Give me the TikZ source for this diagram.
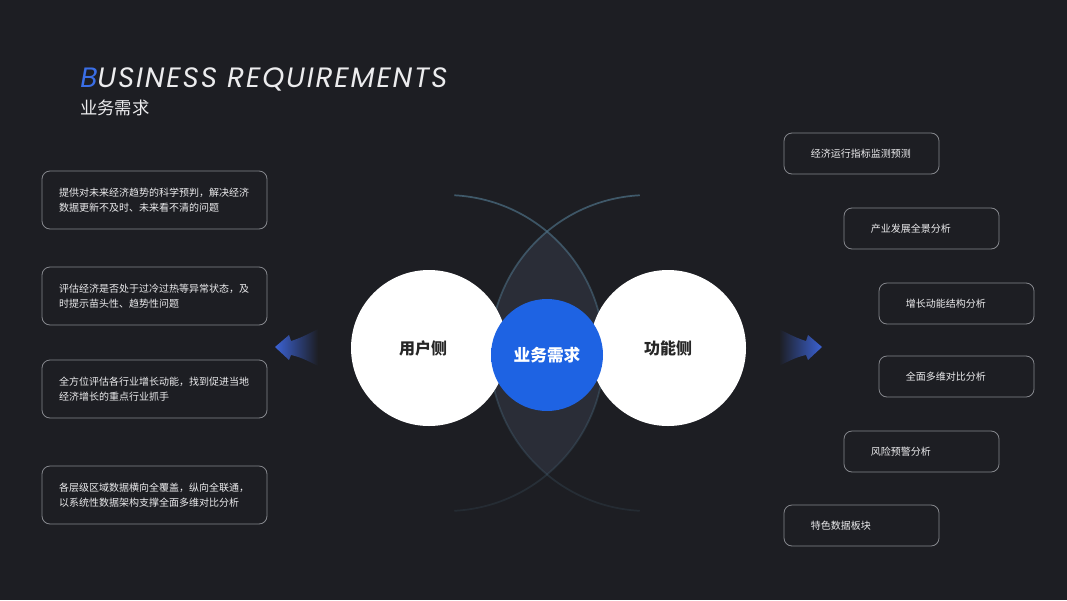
\documentclass[tikz,border=0pt]{standalone}
\usepackage{fontspec}
\usetikzlibrary{calc, fadings}
\newfontfamily\cjk{Noto Sans CJK SC}
\newfontfamily\titlefont[LetterSpace=6.5]{Poppins}
\definecolor{bzbg}{HTML}{1D1E23}
\definecolor{bzline}{HTML}{85878D}
\definecolor{bztext}{HTML}{ECECEE}
\definecolor{bzblue}{HTML}{3A6EE6}
\definecolor{bzcore}{HTML}{1E63E3}
\definecolor{bzcorelight}{HTML}{6C9CF2}
\definecolor{bzarc}{HTML}{4F7389}
\definecolor{bzlens}{HTML}{2A2D37}
\definecolor{bzarrow}{HTML}{3B62D4}
\definecolor{bzlabel}{HTML}{262626}
\tikzfading[name=arcfade, top color=transparent!30, middle color=transparent!0, bottom color=transparent!85]
\pgfdeclarehorizontalshading{coreshade}{100bp}{color(0bp)=(bzcorelight); color(24bp)=(bzcore); color(100bp)=(bzcore)}

\begin{document}
\begin{tikzpicture}[x=0.75pt, y=-0.75pt, font=\cjk,
    lbox/.style={draw=bzline, line width=0.6pt, rounded corners=6pt,
      minimum width=168.75pt, minimum height=43.5pt, text width=143pt,
      inner xsep=12pt, align=left, text=bztext,
      font=\cjk\fontsize{7.5}{11.25}\selectfont},
    rbox/.style={draw=bzline, line width=0.6pt, rounded corners=6pt,
      minimum width=116.25pt, minimum height=30.75pt, text width=76pt,
      inner xsep=20pt, align=left, text=bztext,
      font=\cjk\fontsize{7.5}{11.25}\selectfont}]
    \fill[bzbg] (0,0) rectangle (1067,600);
    \useasboundingbox (0,0) rectangle (1067,600);

    % heading
    \node[anchor=base west, inner sep=0pt, text=bztext,
          font=\titlefont\itshape\fontsize{21}{24}\selectfont] (title) at (80,87)
          {\textcolor{bzblue}{B}USINESS REQUIREMENTS};
    \node[anchor=base west, inner sep=0pt, text=bztext,
          font=\cjk\fontsize{13}{15}\selectfont] (subtitle) at (80,114) {业务需求};

    % crossing arcs behind the circles
    \coordinate (ca) at (446,353);
    \coordinate (cb) at (648,353);
    \begin{scope}
      \clip (ca) circle[radius=118.5pt];
      \fill[bzlens] (cb) circle[radius=118.5pt];
    \end{scope}
    \draw[bzarc, line width=1.3pt, path fading=arcfade]
      ($(ca)+(87:118.5pt)$) arc[start angle=87, end angle=-87, radius=118.5pt];
    \draw[bzarc, line width=1.3pt, path fading=arcfade]
      ($(cb)+(93:118.5pt)$) arc[start angle=93, end angle=267, radius=118.5pt];

    % circles
    \node[circle, fill=white, minimum size=117pt, inner sep=0pt, text=bzlabel,
          font=\cjk\bfseries\fontsize{12}{14}\selectfont] (user) at (429,348) {用户侧\hspace*{9pt}};
    \node[circle, fill=white, minimum size=117pt, inner sep=0pt, text=bzlabel,
          font=\cjk\bfseries\fontsize{12}{14}\selectfont] (func) at (668,348) {功能侧};
    \node[circle, shading=coreshade, minimum size=84pt, inner sep=0pt, text=white,
          font=\cjk\bfseries\fontsize{12.5}{14}\selectfont] (core) at (547,355) {业务需求};

    % side arrows
    \shade[left color=bzarrow, middle color=bzarrow!60!bzbg, right color=bzbg]
      (275,347) -- (289,335) -- (291,341) .. controls (301,338) and (310,333) .. (318,329)
      -- (318,366) .. controls (310,362) and (301,357) .. (291,355) -- (289,360) -- cycle;
    \shade[right color=bzarrow, middle color=bzarrow!60!bzbg, left color=bzbg]
      (822,347) -- (808,335) -- (806,341) .. controls (796,338) and (787,333) .. (779,329)
      -- (779,366) .. controls (787,362) and (796,357) .. (806,355) -- (808,360) -- cycle;

    % user side
    \node[lbox] (u1) at (154.5,200) {提供对未来经济趋势的科学预判，解决经济\\数据更新不及时、未来看不清的问题};
    \node[lbox] (u2) at (154.5,296) {评估经济是否处于过冷过热等异常状态，及\\时提示苗头性、趋势性问题};
    \node[lbox] (u3) at (154.5,389) {全方位评估各行业增长动能，找到促进当地\\经济增长的重点行业抓手};
    \node[lbox] (u4) at (154.5,495) {各层级区域数据横向全覆盖，纵向全联通，\\以系统性数据架构支撑全面多维对比分析};

    % function side
    \node[rbox] (f1) at (861.5,153.5) {经济运行指标监测预测};
    \node[rbox] (f2) at (921.5,228.5) {产业发展全景分析};
    \node[rbox] (f3) at (956.5,303.5) {增长动能结构分析};
    \node[rbox] (f4) at (956.5,376.5) {全面多维对比分析};
    \node[rbox] (f5) at (921.5,451.5) {风险预警分析};
    \node[rbox] (f6) at (861.5,525.5) {特色数据板块};
\end{tikzpicture}
\end{document}
